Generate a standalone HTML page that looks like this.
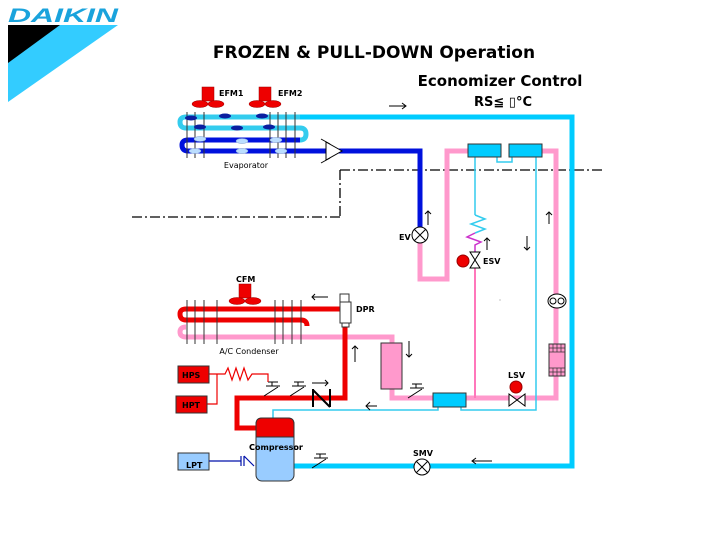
<!DOCTYPE html>
<html><head><style>body{margin:0;background:#fff}svg{display:block;font-family:"DejaVu Sans","Liberation Sans",sans-serif}</style></head><body>
<svg width="720" height="540" viewBox="0 0 720 540" xmlns="http://www.w3.org/2000/svg">
<text x="8" y="22" font-family="Liberation Sans" font-weight="bold" font-style="italic" font-size="19" fill="#1aa3dc" textLength="110" lengthAdjust="spacingAndGlyphs">DAIKIN</text>
<polygon points="8,25 118,25 8,102" fill="#33ccff"/>
<polygon points="8,25 60,25 8,63" fill="#000"/>
<text x="374" y="58" text-anchor="middle" font-weight="bold" font-size="17">FROZEN &amp; PULL-DOWN Operation</text>
<text x="500" y="86" text-anchor="middle" font-weight="bold" font-size="15">Economizer Control</text>
<text x="503" y="106" text-anchor="middle" font-weight="bold" font-size="13">RS≦ ▯°C</text>
<!-- dash-dot -->
<path d="M340,170 H602 M340,170 V216 M132,217 H340" stroke="#000" stroke-width="1.3" fill="none" stroke-dasharray="10,3,2,3"/>
<!-- cyan main loop -->
<path d="M300,117 H572 V466 H293" stroke="#00ccff" stroke-width="5" fill="none"/>
<path d="M300,117 H186 Q180,117 180,122 Q180,128 186,128 H300 Q306,128 306,134 Q306,140 300,140" stroke="#33ccee" stroke-width="5" fill="none"/>
<path d="M300,140 H188 Q182,140 182,145 Q182,151 188,151 H420 V228" stroke="#0011dd" stroke-width="5" fill="none"/>
<g stroke="#333" stroke-width="1">
<path d="M187,112V158M195,112V158M204,112V158M270,112V158M278,112V158M286,112V158M295,112V158"/>
</g>
<g fill="#0a1fa0"><ellipse cx="191" cy="118" rx="6" ry="2.5"/><ellipse cx="225" cy="116" rx="6" ry="2.5"/><ellipse cx="262" cy="116" rx="6" ry="2.5"/><ellipse cx="200" cy="127" rx="6" ry="2.5"/><ellipse cx="237" cy="128" rx="6" ry="2.5"/><ellipse cx="269" cy="127" rx="6" ry="2.5"/></g>
<g fill="#bbddff" stroke="#7799cc" stroke-width=".5"><ellipse cx="200" cy="139" rx="6" ry="2.5"/><ellipse cx="242" cy="141" rx="6" ry="2.5"/><ellipse cx="276" cy="140" rx="6" ry="2.5"/><ellipse cx="195" cy="151" rx="6" ry="2.5"/><ellipse cx="242" cy="151" rx="6" ry="2.5"/><ellipse cx="281" cy="151" rx="6" ry="2.5"/></g>
<text x="246" y="168" text-anchor="middle" font-size="8">Evaporator</text>
<path d="M342,151 L326,142 L326,160 Z" fill="#fff" stroke="#000"/>
<path d="M321,139 L330,144 M321,163 L330,158" stroke="#000"/>
<!-- fans -->
<g fill="#e00" stroke="#900" stroke-width=".5">
<rect x="202" y="87" width="12" height="14"/><ellipse cx="200" cy="104" rx="8" ry="3.5"/><ellipse cx="216" cy="104" rx="8" ry="3.5"/>
<rect x="259" y="87" width="12" height="14"/><ellipse cx="257" cy="104" rx="8" ry="3.5"/><ellipse cx="273" cy="104" rx="8" ry="3.5"/>
<rect x="239" y="284" width="12" height="14"/><ellipse cx="237" cy="301" rx="8" ry="3.5"/><ellipse cx="253" cy="301" rx="8" ry="3.5"/>
</g>
<g font-size="8" font-weight="bold">
<text x="219" y="96">EFM1</text><text x="278" y="96">EFM2</text><text x="236" y="282">CFM</text>
<text x="399" y="240">EV</text><text x="483" y="264">ESV</text><text x="356" y="312">DPR</text>
<text x="508" y="378">LSV</text><text x="413" y="456">SMV</text><text x="249" y="450">Compressor</text>
</g>
<!-- pink circuit -->
<path d="M420,242 V279 H447 V151 H470 M542,151 H556 V398 H392 V389 M392,343 V337 H345" stroke="#ff99cc" stroke-width="5" fill="none"/>
<path d="M345,337 H186 Q180,337 180,332 Q180,327 186,327" stroke="#ff99cc" stroke-width="5" fill="none"/>
<path d="M475,268 V398" stroke="#ff77bb" stroke-width="2" fill="none"/>
<!-- cyan thin -->
<path d="M475,157 V215 M536,157 V410 H461 V407 M438,407 V410 H273 V420 M497,157 V162 H512 V157" stroke="#33ccee" stroke-width="1.5" fill="none"/>
<path d="M475,215 l10,4 -14,5 14,5 -10,4" stroke="#33ccee" stroke-width="1.5" fill="none"/>
<path d="M475,233 l-8,4 14,5 -6,3 V252" stroke="#cc33cc" stroke-width="1.5" fill="none"/>
<rect x="468" y="144" width="33" height="13" fill="#00ccff" stroke="#333"/>
<rect x="509" y="144" width="33" height="13" fill="#00ccff" stroke="#333"/>
<rect x="433" y="393" width="33" height="14" fill="#00ccff" stroke="#333"/>
<rect x="381" y="343" width="21" height="46" fill="#ff99cc" stroke="#333"/>
<!-- red circuit -->
<path d="M345,309 H186 Q180,309 180,314 Q180,320 186,320 H301 Q307,320 307,326" stroke="#ee0000" stroke-width="5" fill="none"/>
<path d="M345,325 V398 H237 V428 H256" stroke="#ee0000" stroke-width="5" fill="none"/>
<g stroke="#333" stroke-width="1"><path d="M187,300V344M195,300V344M204,300V344M217,300V344M275,300V344M283,300V344M292,300V344M301,300V344"/></g>
<text x="249" y="354" text-anchor="middle" font-size="8">A/C Condenser</text>
<rect x="340" y="294" width="9" height="8" fill="#fff" stroke="#333"/>
<rect x="340" y="302" width="11" height="21" fill="#fff" stroke="#333"/>
<rect x="342" y="323" width="7" height="4" fill="#fff" stroke="#333"/>
<!-- check valve -->
<path d="M313,389 V407 M330,389 V407 M313,390 L330,407" stroke="#000" stroke-width="2" fill="none"/>
<!-- switches -->
<g stroke="#000" stroke-width="1" fill="none">
<path d="M268,382h10M266,386h14M272,382v4M264,396 l14,-9" />
<path d="M294,382h10M292,386h14M298,382v4M290,396 l14,-9" />
<path d="M412,384h10M410,388h14M416,384v4M408,398 l14,-9" />
<path d="M316,454h10M314,458h14M320,454v4M312,468 l14,-9" />
</g>
<path d="M209,374 H225 l3,-6 4,12 4,-12 4,12 4,-12 4,12 4,-6 H268 V382 M217,374 V404 H207" stroke="#ee0000" stroke-width="1.2" fill="none"/>
<rect x="178" y="366" width="31" height="17" fill="#ee0000" stroke="#333"/>
<rect x="176" y="396" width="31" height="17" fill="#ee0000" stroke="#333"/>
<rect x="178" y="453" width="31" height="17" fill="#99ccff" stroke="#333"/>
<g font-size="8" font-weight="bold"><text x="182" y="378">HPS</text><text x="182" y="408">HPT</text><text x="186" y="468">LPT</text></g>
<path d="M209,461 H241 M241,456 V466 M244,456 V466 M244,456 L254,466" stroke="#0011aa" stroke-width="1.2" fill="none"/>
<!-- compressor -->
<rect x="256" y="418" width="38" height="63" rx="6" fill="#99ccff" stroke="#333"/>
<path d="M256,437 V424 Q256,418 262,418 H288 Q294,418 294,424 V437 Z" fill="#ee0000" stroke="#333"/>
<text x="276" y="450" text-anchor="middle" font-size="8" font-weight="bold">Compressor</text>
<!-- valves -->
<g fill="#fff" stroke="#000" stroke-width="1">
<circle cx="420" cy="235" r="8"/><path d="M414,229l12,12M426,229l-12,12"/>
<circle cx="422" cy="467" r="8"/><path d="M416,461l12,12M428,461l-12,12"/>
<path d="M470,252 L480,252 L470,268 L480,268 Z"/>
<path d="M509,394 L509,406 L525,394 L525,406 Z"/>
<ellipse cx="557" cy="301" rx="9" ry="7"/><circle cx="553" cy="301" r="3"/><circle cx="561" cy="301" r="3"/>
</g>
<circle cx="463" cy="261" r="6" fill="#ee0000" stroke="#900"/>
<circle cx="516" cy="387" r="6" fill="#ee0000" stroke="#900"/>
<rect x="549" y="344" width="16" height="32" fill="#ff99cc" stroke="#333"/>
<path d="M549,348h16M549,352h16M549,368h16M549,372h16M553,344v8M557,344v8M561,344v8M553,368v8M557,368v8M561,368v8" stroke="#333" stroke-width=".7"/>
<!-- arrows -->
<g stroke="#000" stroke-width="1" fill="none">
<path d="M389,106h17M402,103l4,3-4,3"/>
<path d="M428,225v-14M425,214l3,-3 3,3"/>
<path d="M487,250v-12M484,241l3,-3 3,3"/>
<path d="M527,236v14M524,247l3,3 3,-3"/>
<path d="M549,224v-12M546,215l3,-3 3,3"/>
<path d="M312,297h16M315,294l-3,3 3,3"/>
<path d="M355,362v-16M352,349l3,-3 3,3"/>
<path d="M409,341v16M406,354l3,3 3,-3"/>
<path d="M312,383h16M325,380l3,3 -3,3"/>
<path d="M366,406h11M370,402l-4,4 4,4"/>
<path d="M472,461h20M476,458l-4,3 4,3"/>
</g>
<circle cx="500" cy="300" r=".6" fill="#999"/>
</svg>
</body></html>
